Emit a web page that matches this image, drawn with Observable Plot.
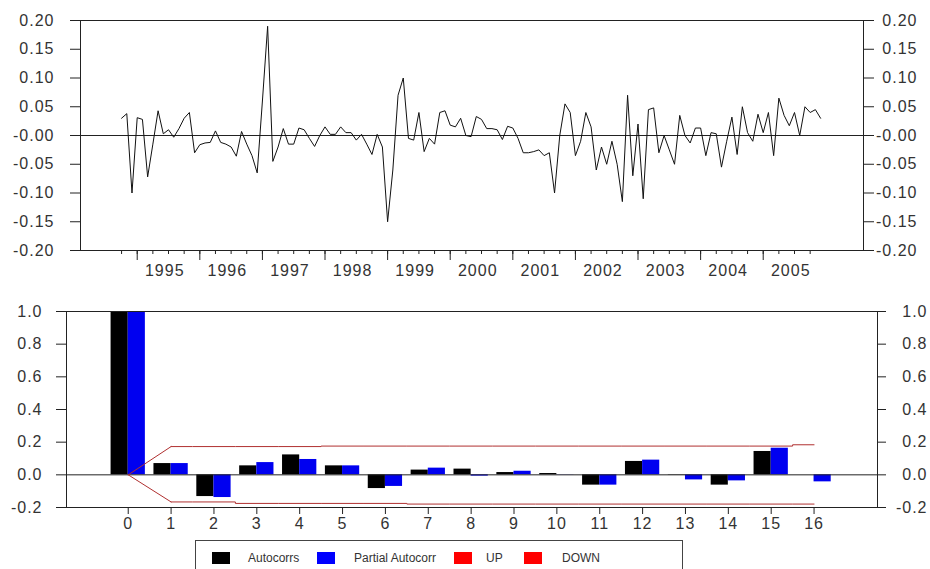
<!DOCTYPE html>
<html><head><meta charset="utf-8">
<script src="https://cdn.jsdelivr.net/npm/d3@7"></script>
<script src="https://cdn.jsdelivr.net/npm/@observablehq/plot@0.6"></script>
<style>
html,body{margin:0;padding:0;background:#fff;}
#wrap{position:relative;width:930px;height:569px;overflow:hidden;font-family:"Liberation Sans",Arial,sans-serif;}
#top{position:absolute;left:0;top:0;}
#bottom{position:absolute;left:0;top:290px;}
#legend{position:absolute;left:195px;top:540px;width:488px;height:40px;border:1px solid #444;box-sizing:border-box;background:#fff;}
.sw{position:absolute;top:11px;width:18px;height:12px;}
.lt{position:absolute;top:10px;font-size:12px;line-height:14px;color:#333;white-space:nowrap;}
svg text{letter-spacing:1px;}
</style></head><body>
<div id="wrap"><div id="top"></div><div id="bottom"></div><div id="legend"></div></div>
<script>
// ---- Top panel: monthly series, Oct 1994 .. Dec 2005 ----
const startYear = 1994;
const startMonth = 10;
const returns = [
  0.030, 0.038, -0.100, 0.031, 0.028, -0.072, -0.015, 0.043, 0.003, 0.010,
  -0.003, 0.012, 0.030, 0.040, -0.030, -0.016, -0.013, -0.012, 0.008, -0.012,
  -0.015, -0.020, -0.036, 0.007, -0.015, -0.035, -0.065, 0.060, 0.190, -0.045,
  -0.020, 0.012, -0.015, -0.015, 0.013, 0.010, -0.005, -0.019, 0.000, 0.015,
  0.002, 0.002, 0.015, 0.005, 0.005, -0.008, 0.002, -0.015, -0.033, 0.002,
  -0.020, -0.150, -0.060, 0.070, 0.100, -0.005, -0.008, 0.040, -0.028, -0.005,
  -0.015, 0.040, 0.043, 0.018, 0.015, 0.030, 0.000, -0.002, 0.033, 0.028,
  0.012, 0.012, 0.010, -0.007, 0.016, 0.013, -0.005, -0.030, -0.030, -0.028,
  -0.025, -0.035, -0.030, -0.100, 0.000, 0.055, 0.040, -0.035, -0.010, 0.040,
  0.015, -0.060, -0.020, -0.050, -0.010, -0.050, -0.115, 0.070, -0.070, 0.020,
  -0.110, 0.045, 0.048, -0.030, 0.000, -0.025, -0.050, 0.035, 0.000, -0.013,
  0.013, 0.013, -0.035, 0.005, 0.003, -0.055, -0.010, 0.032, -0.033, 0.050,
  0.005, -0.010, 0.037, 0.005, 0.040, -0.035, 0.065, 0.035, 0.017, 0.040,
  0.000, 0.050, 0.040, 0.045, 0.030
];
const yearLabels = [1995, 1996, 1997, 1998, 1999, 2000, 2001, 2002, 2003, 2004, 2005];
const yTicksTop = [-0.20, -0.15, -0.10, -0.05, 0, 0.05, 0.10, 0.15, 0.20];
const yLabelsTop = ["-0.20", "-0.15", "-0.10", "-0.05", "-0.00", "0.05", "0.10", "0.15", "0.20"];

// ---- Bottom panel: correlogram ----
const lags = [0, 1, 2, 3, 4, 5, 6, 7, 8, 9, 10, 11, 12, 13, 14, 15, 16];
const autocorrs = [1.0, 0.069, -0.133, 0.055, 0.122, 0.055, -0.084, 0.029, 0.035, 0.014, 0.008, -0.063, 0.082, -0.002, -0.063, 0.143, 0.0];
const partialAutocorrs = [1.0, 0.069, -0.139, 0.075, 0.094, 0.055, -0.071, 0.041, -0.008, 0.022, 0.001, -0.063, 0.090, -0.031, -0.037, 0.163, -0.043];
const upBand = [0, 0.173, 0.173, 0.173, 0.173, 0.176, 0.176, 0.176, 0.176, 0.176, 0.176, 0.176, 0.176, 0.176, 0.176, 0.176, 0.184];
const downBand = [0, -0.166, -0.166, -0.175, -0.175, -0.175, -0.175, -0.179, -0.179, -0.179, -0.179, -0.179, -0.179, -0.179, -0.179, -0.179, -0.179];
const yTicksBottom = [-0.2, 0, 0.2, 0.4, 0.6, 0.8, 1.0];
const yLabelsBottom = ["-0.2", "0.0", "0.2", "0.4", "0.6", "0.8", "1.0"];

const legendNames = ["Autocorrs", "Partial Autocorr", "UP", "DOWN"];
const legendColors = ["#000000", "#0000ff", "#ff0000", "#ff0000"];

const ink = "#222";
const fontStyle = {fontFamily: '"Liberation Sans", Arial, sans-serif', fontSize: "16px", color: "#333", background: "white", overflow: "visible"};

// derived positions
const series = returns.map((v, i) => ({t: startYear + (startMonth - 1) / 12 + i / 12, v}));
const yearStarts = yearLabels.map(y => y);
const quarterTicks = [];
for (let y = yearLabels[0] - 1; y <= yearLabels[yearLabels.length - 1]; y++) {
  for (const q of [0, 0.25, 0.5, 0.75]) {
    const t = y + q;
    if (t >= yearLabels[0] - 0.25 && t <= yearLabels[yearLabels.length - 1] + 0.75) quarterTicks.push(t);
  }
}
const yearLabelPos = yearLabels.map(y => y + 0.44);

const topPlot = Plot.plot({
  width: 930, height: 290,
  marginLeft: 80, marginRight: 67, marginTop: 20, marginBottom: 40,
  x: {domain: [1994.094, 2006.602], axis: null},
  y: {domain: [-0.2, 0.2], axis: null},
  style: fontStyle,
  marks: [
    Plot.ruleY([0], {stroke: ink}),
    Plot.line(series, {x: "t", y: "v", stroke: "#111", strokeWidth: 1}),
    Plot.frame({stroke: ink}),
    Plot.axisY(yTicksTop, {anchor: "left", tickSize: 10, tickPadding: 16, stroke: ink, tickFormat: d => yLabelsTop[yTicksTop.indexOf(d)], label: null}),
    Plot.axisY(yTicksTop, {anchor: "right", tickSize: 10, tickPadding: 44, textAnchor: "end", stroke: ink, tickFormat: d => yLabelsTop[yTicksTop.indexOf(d)], label: null}),
    Plot.axisX(quarterTicks, {anchor: "bottom", tickSize: 4, stroke: ink, fill: "none", label: null}),
    Plot.axisX(yearStarts, {anchor: "bottom", tickSize: 10, stroke: ink, fill: "none", label: null}),
    Plot.axisX(yearLabelPos, {anchor: "bottom", tickSize: 0, tickPadding: 14, tickFormat: d => String(Math.floor(d)), label: null})
  ]
});
document.getElementById("top").appendChild(topPlot);

const acf = lags.map((lag, i) => ({lag, v: autocorrs[i]}));
const pacf = lags.map((lag, i) => ({lag, v: partialAutocorrs[i]}));
const upFirst = lags.slice(0, 2).map((lag, i) => ({lag, v: upBand[i]}));
const upRest = lags.slice(1).map((lag, i) => ({lag, v: upBand[i + 1]}));
const downFirst = lags.slice(0, 2).map((lag, i) => ({lag, v: downBand[i]}));
const downRest = lags.slice(1).map((lag, i) => ({lag, v: downBand[i + 1]}));
const red = "#b03030";

const bottomPlot = Plot.plot({
  width: 930, height: 247,
  marginLeft: 66, marginRight: 53, marginTop: 21, marginBottom: 30,
  x: {domain: [-1.44, 17.48], axis: null},
  y: {domain: [-0.2, 1.0], axis: null},
  style: fontStyle,
  marks: [
    Plot.rect(acf, {x1: d => d.lag - 0.4, x2: d => d.lag, y1: () => 0, y2: "v", fill: "#000"}),
    Plot.rect(pacf, {x1: d => d.lag, x2: d => d.lag + 0.4, y1: () => 0, y2: "v", fill: "#0000f0"}),
    Plot.ruleY([0], {stroke: ink}),
    Plot.line(upFirst, {x: "lag", y: "v", stroke: red, strokeWidth: 1}),
    Plot.line(upRest, {x: "lag", y: "v", stroke: red, strokeWidth: 1, curve: "step"}),
    Plot.line(downFirst, {x: "lag", y: "v", stroke: red, strokeWidth: 1}),
    Plot.line(downRest, {x: "lag", y: "v", stroke: red, strokeWidth: 1, curve: "step"}),
    Plot.frame({stroke: ink}),
    Plot.axisY(yTicksBottom, {anchor: "left", tickSize: 10, tickPadding: 14, stroke: ink, tickFormat: d => yLabelsBottom[yTicksBottom.indexOf(d)], label: null}),
    Plot.axisY(yTicksBottom, {anchor: "right", tickSize: 8, tickPadding: 42, textAnchor: "end", stroke: ink, tickFormat: d => yLabelsBottom[yTicksBottom.indexOf(d)], label: null}),
    Plot.axisX(lags, {anchor: "bottom", tickSize: 7, tickPadding: 3, stroke: ink, tickFormat: d => String(d), label: null})
  ]
});
document.getElementById("bottom").appendChild(bottomPlot);

// legend
const legend = document.getElementById("legend");
const swLeft = [16, 121, 258, 328];
const txLeft = [52, 158, 290, 366];
legendNames.forEach((name, i) => {
  const s = document.createElement("div");
  s.className = "sw"; s.style.left = swLeft[i] + "px"; s.style.background = legendColors[i];
  legend.appendChild(s);
  const t = document.createElement("div");
  t.className = "lt"; t.style.left = txLeft[i] + "px"; t.textContent = name;
  legend.appendChild(t);
});
</script>
</body></html>
